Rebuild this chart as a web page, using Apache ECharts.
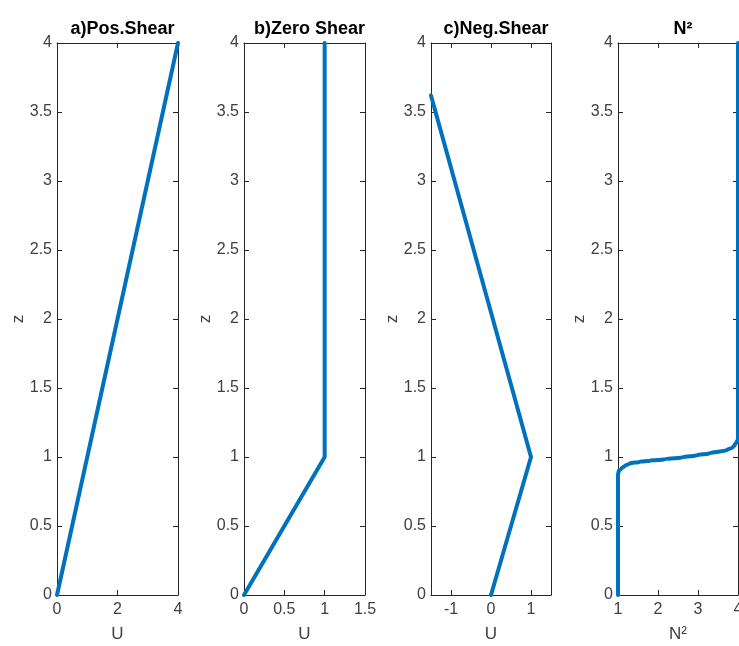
<!DOCTYPE html>
<html>
<head>
<meta charset="utf-8">
<script src="https://cdn.jsdelivr.net/npm/echarts@6/dist/echarts.min.js"></script>
<style>
  html, body { margin: 0; padding: 0; background: #fff; }
  #chart { width: 739px; height: 646px; }
</style>
</head>
<body>
<div id="chart"></div>
<script>
// Background velocity and stratification profiles, z from 0 to 4
const panelTitles = ['a)Pos.Shear', 'b)Zero Shear', 'c)Neg.Shear', 'N\u00b2'];
const xNames = ['U', 'U', 'U', 'N\u00b2'];

// a) positive shear
const posShearU = [0, 4];
const posShearZ = [0, 4];
// b) zero shear above z = 1
const zeroShearU = [0, 1, 1];
const zeroShearZ = [0, 1, 4];
// c) negative shear above z = 1
const negShearU = [0, 1, -1.5];
const negShearZ = [0, 1, 3.62];
// stratification N^2: uniform below, sharp step near z = 1, uniform above
const n2Values = [1, 1, 1.02, 1.09, 1.17, 1.3, 1.55, 1.8, 2.2, 2.63, 2.98, 3.3, 3.72, 3.87, 3.92, 3.97, 4, 4];
const n2Z      = [0, 0.87, 0.9, 0.918, 0.935, 0.954, 0.965, 0.973, 0.985, 0.998, 1.012, 1.027, 1.05, 1.07, 1.087, 1.11, 1.13, 4];

// axis ranges and tick values
const xRanges = [[0, 4], [0, 1.5], [-1.5, 1.5], [1, 4]];
const xTicks = [[0, 2, 4], [0, 0.5, 1, 1.5], [-1, 0, 1], [1, 2, 3, 4]];
const zRange = [0, 4];
const zTicks = [0, 0.5, 1, 1.5, 2, 2.5, 3, 3.5, 4];

const profiles = [
  [posShearU, posShearZ],
  [zeroShearU, zeroShearZ],
  [negShearU, negShearZ],
  [n2Values, n2Z]
];

const gridLefts = [57, 244, 431, 618];
const gridWidths = [121, 121, 120, 120];
const gridTop = 43, gridHeight = 552;

const axisColor = '#262626';
const labelColor = '#404040';
const font = 'Liberation Sans, Arial, Helvetica, sans-serif';

const grids = [], xAxes = [], yAxes = [], series = [], titles = [];

const fmt = v => String(v);

profiles.forEach((p, i) => {
  grids.push({
    left: gridLefts[i], top: gridTop, width: gridWidths[i], height: gridHeight,
    containLabel: false, outerBoundsMode: 'none'
  });
  const common = {
    gridIndex: i,
    axisLine: { show: true, onZero: false, lineStyle: { color: axisColor, width: 1 } },
    axisTick: { show: true, inside: true, length: 5, lineStyle: { color: axisColor } },
    splitLine: { show: false }
  };
  // bottom x axis with labels
  xAxes.push(Object.assign({}, common, {
    type: 'value', position: 'bottom', min: xRanges[i][0], max: xRanges[i][1],
    name: xNames[i], nameLocation: 'middle', nameGap: 31, nameMoveOverlap: false,
    nameTextStyle: { color: labelColor, fontSize: 17, fontFamily: font },
    axisTick: Object.assign({}, common.axisTick, { customValues: xTicks[i] }),
    axisLabel: { customValues: xTicks[i], color: labelColor, fontSize: 16, fontFamily: font, margin: 7, formatter: fmt }
  }));
  // top x axis: box edge with ticks only
  xAxes.push(Object.assign({}, common, {
    type: 'value', position: 'top', min: xRanges[i][0], max: xRanges[i][1],
    axisTick: Object.assign({}, common.axisTick, { customValues: xTicks[i] }),
    axisLabel: { show: false }
  }));
  // left z axis
  yAxes.push(Object.assign({}, common, {
    type: 'value', position: 'left', min: zRange[0], max: zRange[1], interval: 0.5,
    name: 'z', nameLocation: 'middle', nameGap: 30, nameRotate: 90, nameMoveOverlap: false,
    nameTextStyle: { color: labelColor, fontSize: 17, fontFamily: font },
    axisTick: Object.assign({}, common.axisTick, { customValues: zTicks }),
    axisLabel: { customValues: zTicks, color: labelColor, fontSize: 16, fontFamily: font, margin: 5, formatter: fmt }
  }));
  // right z axis: box edge with ticks only
  yAxes.push(Object.assign({}, common, {
    type: 'value', position: 'right', min: zRange[0], max: zRange[1], interval: 0.5,
    axisTick: Object.assign({}, common.axisTick, { customValues: zTicks }),
    axisLabel: { show: false }
  }));
  series.push({
    type: 'line',
    xAxisIndex: i * 2,
    yAxisIndex: i * 2,
    data: p[0].map((u, k) => [u, p[1][k]]),
    showSymbol: false,
    clip: true,
    smooth: i === 3 ? 0.3 : false,
    smoothMonotone: i === 3 ? 'y' : undefined,
    lineStyle: { color: '#0072BD', width: 4, cap: 'round', join: 'round' },
    animation: false
  });
  titles.push({
    text: panelTitles[i],
    left: gridLefts[i] + gridWidths[i] / 2,
    top: 15,
    textAlign: 'center',
    textStyle: { color: '#000', fontSize: 18, fontWeight: 'bold', fontFamily: font }
  });
});

const chart = echarts.init(document.getElementById('chart'), null, { renderer: 'canvas' });
chart.setOption({
  backgroundColor: '#fff',
  animation: false,
  title: titles,
  grid: grids,
  xAxis: xAxes,
  yAxis: yAxes,
  series: series
});
</script>
</body>
</html>
